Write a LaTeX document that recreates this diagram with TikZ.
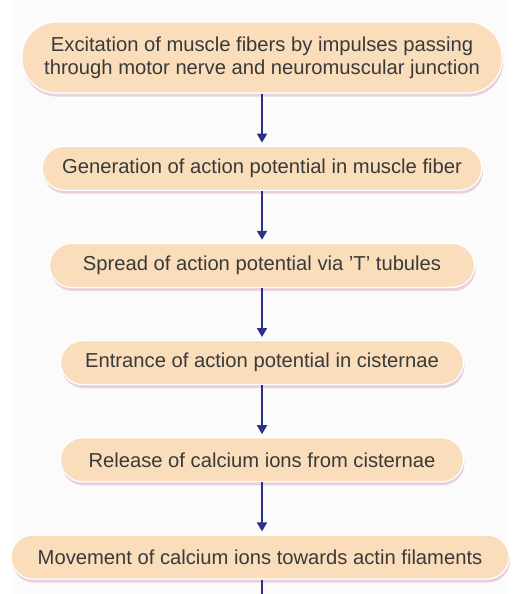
\documentclass[tikz,border=0pt]{standalone}
\usepackage{fontspec}
\setmainfont{Liberation Sans}
\usetikzlibrary{positioning, arrows.meta, shadows}
\definecolor{stagefill}{HTML}{FADDBB}
\definecolor{stagetext}{HTML}{3A3A3A}
\definecolor{stageshadow}{HTML}{D9AFC4}
\definecolor{flowblue}{HTML}{2E3088}
\definecolor{panel}{HTML}{FBFBFC}
\tikzset{
    stage/.style={rectangle, rounded corners=22pt, fill=stagefill,
        draw=white, line width=1.2pt, text=stagetext, align=center,
        minimum height=44pt, inner xsep=20pt,
        font=\fontsize{20.2}{22.6}\selectfont,
        drop shadow={shadow xshift=1pt, shadow yshift=-3.5pt,
            fill=stageshadow, opacity=.55}},
    flow/.style={draw=flowblue, line width=1.8pt,
        -{Triangle[width=10pt, length=9pt]}, shorten >=3pt},
    flowline/.style={draw=flowblue, line width=1.8pt},
}

\begin{document}
\begin{tikzpicture}[node distance=52pt]
        \useasboundingbox (0,0) rectangle (523pt,-594pt);
        \fill[panel] (12pt,0) rectangle (508pt,-594pt);
        \node[stage, rounded corners=34pt, minimum height=71pt,
            minimum width=480pt] (excite)
            at (262pt,-57.5pt) {Excitation of muscle fibers by impulses passing\\
            through motor nerve and neuromuscular junction};
        \node[stage, below=52pt of excite] (generate)
            {Generation of action potential in muscle fiber};
        \node[stage, below=of generate, minimum width=425pt] (spread)
            {Spread of action potential via 'T' tubules};
        \node[stage, below=of spread, minimum width=403pt] (enter)
            {Entrance of action potential in cisternae};
        \node[stage, below=of enter, minimum width=403pt] (release)
            {Release of calcium ions from cisternae};
        \node[stage, below=of release, minimum width=498pt, xshift=-2pt] (move)
            {Movement of calcium ions towards actin filaments};
        \coordinate (tail) at (release.south |- 0,-594pt);
        \draw[flow] (excite) -- (generate);
        \draw[flow] (generate) -- (spread);
        \draw[flow] (spread) -- (enter);
        \draw[flow] (enter) -- (release);
        \draw[flow] (release) -- (release.south |- move.north);
        \draw[flowline] (release.south |- move.south) -- (tail);
    \end{tikzpicture}
\end{document}
